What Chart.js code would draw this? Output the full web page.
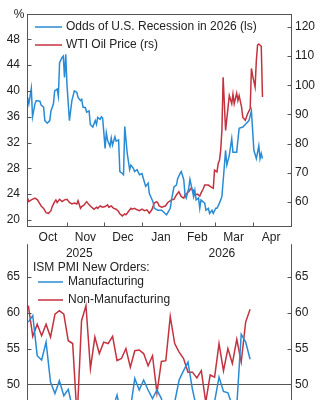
<!DOCTYPE html>
<html><head><meta charset="utf-8"><title>Recession odds, WTI and ISM new orders</title>
<script src="https://cdn.jsdelivr.net/npm/chart.js@4.4.1/dist/chart.umd.min.js"></script>
<style>
html,body{margin:0;padding:0;background:#fff;overflow:hidden;width:324px;height:400px;position:relative}
#w1{position:absolute;left:0;top:0;width:324px;height:265px}
#w2{position:absolute;left:0;top:230px;width:324px;height:190px}
</style></head><body>
<div id="w1"><canvas id="c1"></canvas></div>
<div id="w2"><canvas id="c2"></canvas></div>
<script>
// ---------- data: top panel ----------
const oddsDates = ['2025-09-30','2025-10-01','2025-10-03','2025-10-04','2025-10-06','2025-10-07','2025-10-10','2025-10-11','2025-10-13','2025-10-14','2025-10-16','2025-10-18','2025-10-19','2025-10-21','2025-10-22','2025-10-24','2025-10-25','2025-10-26','2025-10-28','2025-10-29','2025-10-30','2025-10-31','2025-11-01','2025-11-03','2025-11-05','2025-11-07','2025-11-09','2025-11-10','2025-11-12','2025-11-13','2025-11-14','2025-11-16','2025-11-17','2025-11-19','2025-11-20','2025-11-22','2025-11-24','2025-11-25','2025-11-26','2025-11-28','2025-11-29','2025-11-30','2025-12-01','2025-12-02','2025-12-03','2025-12-04','2025-12-06','2025-12-07','2025-12-08','2025-12-10','2025-12-11','2025-12-13','2025-12-14','2025-12-16','2025-12-17','2025-12-18','2025-12-20','2025-12-22','2025-12-23','2025-12-25','2025-12-26','2025-12-28','2025-12-30','2026-01-01','2026-01-02','2026-01-04','2026-01-06','2026-01-07','2026-01-10','2026-01-11','2026-01-14','2026-01-17','2026-01-21','2026-01-24','2026-01-25','2026-01-27','2026-01-29','2026-01-30','2026-02-01','2026-02-02','2026-02-04','2026-02-05','2026-02-06','2026-02-08','2026-02-09','2026-02-10','2026-02-12','2026-02-13','2026-02-14','2026-02-16','2026-02-17','2026-02-18','2026-02-21','2026-02-22','2026-02-24','2026-02-25','2026-02-27','2026-02-28','2026-03-02','2026-03-03','2026-03-05','2026-03-07','2026-03-10','2026-03-11','2026-03-13','2026-03-15','2026-03-16','2026-03-19','2026-03-21','2026-03-24','2026-03-27','2026-03-29','2026-03-31','2026-04-02','2026-04-04','2026-04-06','2026-04-07','2026-04-08','2026-04-09'];
const oddsValues = [39.0,38.0,40.4,36.0,38.0,38.5,38.4,37.8,37.5,35.4,35.0,35.4,36.9,38.0,40.0,40.3,39.2,44.4,45.2,45.4,42.1,45.7,41.0,35.4,38.5,40.0,39.8,39.0,38.5,38.7,37.5,37.4,36.7,36.9,34.8,34.4,35.4,34.8,35.9,35.6,36.0,35.8,33.5,31.1,33.5,32.4,31.4,32.7,31.6,32.9,32.2,32.4,27.5,27.2,27.0,34.5,30.3,27.8,28.5,28.0,27.5,27.8,27.0,27.2,26.5,25.2,25.7,24.1,22.8,21.8,21.5,21.5,20.8,21.8,23.1,25.1,25.4,26.4,27.2,27.5,26.2,23.9,23.4,24.9,26.3,25.4,23.6,24.6,23.1,23.4,21.8,23.1,22.6,21.5,21.8,21.0,21.5,21.0,21.8,21.8,22.6,23.6,30.8,28.5,30.0,32.6,30.5,30.5,34.2,34.4,35.0,35.4,36.9,30.8,29.5,31.5,29.5,30.3,29.5];

const wtiDates = ['2025-09-30','2025-10-01','2025-10-03','2025-10-06','2025-10-08','2025-10-10','2025-10-11','2025-10-13','2025-10-15','2025-10-17','2025-10-19','2025-10-20','2025-10-22','2025-10-23','2025-10-24','2025-10-26','2025-10-28','2025-10-30','2025-11-01','2025-11-03','2025-11-05','2025-11-07','2025-11-09','2025-11-10','2025-11-12','2025-11-13','2025-11-15','2025-11-16','2025-11-17','2025-11-19','2025-11-21','2025-11-23','2025-11-25','2025-11-26','2025-11-28','2025-11-30','2025-12-02','2025-12-04','2025-12-05','2025-12-07','2025-12-09','2025-12-11','2025-12-13','2025-12-14','2025-12-16','2025-12-18','2025-12-19','2025-12-21','2025-12-23','2025-12-24','2025-12-26','2025-12-28','2025-12-30','2026-01-01','2026-01-03','2026-01-05','2026-01-07','2026-01-09','2026-01-11','2026-01-13','2026-01-14','2026-01-15','2026-01-17','2026-01-20','2026-01-22','2026-01-25','2026-01-27','2026-01-29','2026-01-31','2026-02-02','2026-02-04','2026-02-05','2026-02-08','2026-02-10','2026-02-12','2026-02-13','2026-02-15','2026-02-17','2026-02-18','2026-02-20','2026-02-21','2026-02-24','2026-02-26','2026-02-28','2026-03-01','2026-03-03','2026-03-04','2026-03-05','2026-03-06','2026-03-07','2026-03-08','2026-03-10','2026-03-12','2026-03-13','2026-03-15','2026-03-16','2026-03-17','2026-03-19','2026-03-20','2026-03-21','2026-03-23','2026-03-24','2026-03-26','2026-03-28','2026-03-30','2026-03-31','2026-04-01','2026-04-03','2026-04-04','2026-04-05','2026-04-06','2026-04-08','2026-04-09'];
const wtiValues = [61.3,60.1,60.7,61.3,60.7,59.3,58.6,57.8,56.3,56.1,57.0,58.4,60.1,60.7,59.8,60.9,60.1,60.7,60.9,59.8,59.3,59.6,59.3,60.4,57.8,58.4,59.0,59.6,60.1,59.0,58.2,57.5,58.2,57.8,58.6,58.2,58.4,59.0,58.2,58.6,57.8,57.5,56.7,55.9,55.2,55.9,55.6,56.7,57.8,57.5,57.8,57.3,57.0,57.5,57.0,57.3,56.1,57.3,59.6,60.1,59.6,58.6,58.2,58.6,59.8,60.7,60.9,62.4,63.5,61.8,61.3,62.4,63.5,64.7,63.9,62.4,62.7,62.0,63.0,64.7,65.8,65.8,65.2,64.7,70.9,70.3,73.2,74.3,77.7,84.6,102.8,84.5,92.5,96.5,93.7,97.0,93.7,97.3,94.8,96.5,92.5,89.0,88.0,90.3,92.0,105.8,103.3,99.4,108.5,113.8,114.2,113.4,96.0];

const monthStarts = ['2025-10-01','2025-11-01','2025-12-01','2026-01-01','2026-02-01','2026-03-01','2026-04-01','2026-05-01'];
const monthLabels = ['Oct','Nov','Dec','Jan','Feb','Mar','Apr'];
const yearLabels = ['2025','2026'];
const yearLabelDates = ['2025-11-11','2026-03-07'];
const leftTicksTop = [20,24,28,32,36,40,44,48];
const rightTicksTop = [60,70,80,90,100,110,120];

// ---------- data: bottom panel ----------
const ismMonths = ['2022-01','2022-02','2022-03','2022-04','2022-05','2022-06','2022-07','2022-08','2022-09','2022-10','2022-11','2022-12',
 '2023-01','2023-02','2023-03','2023-04','2023-05','2023-06','2023-07','2023-08','2023-09','2023-10','2023-11','2023-12',
 '2024-01','2024-02','2024-03','2024-04','2024-05','2024-06','2024-07','2024-08','2024-09','2024-10','2024-11','2024-12',
 '2025-01','2025-02','2025-03','2025-04','2025-05','2025-06','2025-07','2025-08','2025-09','2025-10','2025-11','2025-12',
 '2026-01','2026-02','2026-03'];
const manufValues = [58.7,59.6,54.0,53.4,55.9,50.3,48.7,50.5,48.4,49.3,46.5,45.0,43.0,46.5,44.5,45.5,43.0,45.5,47.0,46.5,48.5,45.5,47.0,46.5,50.8,49.2,50.6,49.2,48.0,49.2,48.0,45.5,44.8,47.5,50.6,51.9,53.1,49.3,46.5,45.2,47.0,46.5,47.6,51.0,49.0,48.8,47.0,47.0,57.0,55.9,53.5];
const nonManufValues = [61.0,56.7,58.4,56.8,58.4,56.6,59.8,60.3,59.8,56.1,55.7,45.2,58.9,61.0,52.2,56.6,54.3,55.9,55.7,56.7,53.3,53.6,55.0,52.4,54.7,54.8,54.3,52.6,54.0,48.8,53.2,53.3,59.5,55.7,54.5,53.6,51.7,51.7,50.9,51.9,47.5,51.3,51.0,55.7,51.9,55.0,52.9,56.3,53.1,58.7,60.5];
const ismTicks = [50,55,60,65];
const ismTitle = 'ISM PMI New Orders:';

// ---------- styling ----------
const FONT = "'Liberation Sans', Arial, Helvetica, sans-serif";
const BLUE = '#2a8bd5', RED = '#c3323f', AXIS = '#555555', TXT = '#222222';
Chart.defaults.font.family = FONT;
Chart.defaults.font.size = 12;
Chart.defaults.color = TXT;

const day0 = Date.UTC(2025, 9, 1);
const toDay = s => { const p = s.split('-').map(Number); return (Date.UTC(p[0], p[1] - 1, p[2] || 1) - day0) / 86400000; };
const pts = (dates, vals) => dates.map((d, i) => ({ x: toDay(d), y: vals[i] }));
const monthPos = monthStarts.map(toDay);
const labelPos = monthLabels.map((_, i) => (monthPos[i] + monthPos[i + 1]) / 2);

const decor = {
  id: 'decor',
  afterDraw(chart, args, o) {
    const ctx = chart.ctx, a = chart.chartArea;
    const L = Math.round(a.left) + 0.5, R = Math.round(a.right) - 0.5;
    const T = Math.round(a.top) + 0.5, B = Math.round(a.bottom) - 0.5;
    ctx.save();
    ctx.strokeStyle = AXIS; ctx.lineWidth = 1;
    ctx.beginPath();
    ctx.moveTo(L, a.top); ctx.lineTo(L, a.bottom);
    ctx.moveTo(R, a.top); ctx.lineTo(R, a.bottom);
    if (o.top) { ctx.moveTo(a.left, T); ctx.lineTo(a.right, T); }
    if (o.bottom) { ctx.moveTo(a.left, B); ctx.lineTo(a.right, B); }
    ['yL', 'yR'].forEach(id => {
      const s = chart.scales[id];
      s.ticks.forEach(t => {
        const y = Math.round(s.getPixelForValue(t.value)) + 0.5;
        if (id === 'yL') { ctx.moveTo(L, y); ctx.lineTo(L + 4, y); }
        else { ctx.moveTo(R, y); ctx.lineTo(R - 4, y); }
      });
    });
    if (o.xMarks) {
      const s = chart.scales.x;
      o.xMarks.forEach(v => {
        const x = Math.round(s.getPixelForValue(v)) + 0.5;
        if (x > a.left + 3 && x < a.right - 3) { ctx.moveTo(x, B); ctx.lineTo(x, B - 4); }
      });
    }
    ctx.stroke();
    ctx.fillStyle = TXT;
    ctx.font = '12px ' + FONT;
    ctx.textBaseline = 'middle';
    (o.texts || []).forEach(t => { ctx.textAlign = t.align || 'left'; ctx.fillText(t.text, t.x, t.y); });
    if (o.legend) {
      chart.data.datasets.forEach((ds, i) => {
        const y = o.legend.ys[i];
        ctx.strokeStyle = ds.borderColor; ctx.lineWidth = 1.5;
        ctx.beginPath(); ctx.moveTo(o.legend.x0, y); ctx.lineTo(o.legend.x1, y); ctx.stroke();
        ctx.textAlign = 'left'; ctx.fillStyle = TXT;
        ctx.fillText(ds.label, o.legend.tx, y);
      });
    }
    if (o.years) {
      const s = chart.scales.x;
      ctx.textAlign = 'center';
      o.years.labels.forEach((t, i) => ctx.fillText(t, s.getPixelForValue(o.years.values[i]), o.years.y));
    }
    ctx.restore();
  }
};

const tickFont = { family: FONT, size: 12 };

new Chart(document.getElementById('c1'), {
  type: 'line',
  data: { datasets: [
    { label: 'Odds of U.S. Recession in 2026 (ls)', data: pts(oddsDates, oddsValues), borderColor: BLUE, yAxisID: 'yL' },
    { label: 'WTI Oil Price (rs)', data: pts(wtiDates, wtiValues), borderColor: RED, yAxisID: 'yR' }
  ]},
  options: {
    responsive: true, maintainAspectRatio: false, animation: false, devicePixelRatio: 1,
    layout: { padding: { top: 13, left: 0, right: 0, bottom: 0 } },
    elements: { point: { radius: 0 }, line: { borderWidth: 1.5, tension: 0 } },
    plugins: {
      legend: { display: false }, tooltip: { enabled: false },
      decor: {
        top: true, bottom: true, xMarks: monthPos,
        texts: [{ text: '%', x: 19, y: 15, align: 'center' }],
        legend: { x0: 35, x1: 62, tx: 66, ys: [27, 45] },
        years: { labels: yearLabels, values: yearLabelDates.map(toDay), y: 254 }
      }
    },
    scales: {
      x: {
        type: 'linear', min: -1.5, max: 214,
        grid: { display: false, drawTicks: false }, border: { display: false },
        afterBuildTicks: s => { s.ticks = labelPos.map(v => ({ value: v })); },
        afterFit: s => { s.height = 38; },
        ticks: { autoSkip: false, maxRotation: 0, padding: 3, color: TXT, font: tickFont,
          callback: (v, i) => monthLabels[i] }
      },
      yL: {
        position: 'left', min: 18.9, max: 51.9,
        grid: { display: false, drawTicks: false }, border: { display: false },
        afterBuildTicks: s => { s.ticks = leftTicksTop.map(v => ({ value: v })); },
        afterFit: s => { s.width = 27; },
        ticks: { padding: 7, color: TXT, font: tickFont }
      },
      yR: {
        position: 'right', min: 51.4, max: 124.4,
        grid: { display: false, drawTicks: false }, border: { display: false },
        afterBuildTicks: s => { s.ticks = rightTicksTop.map(v => ({ value: v })); },
        afterFit: s => { s.width = 32; },
        ticks: { padding: 3, color: TXT, font: tickFont }
      }
    }
  },
  plugins: [decor]
});

new Chart(document.getElementById('c2'), {
  type: 'line',
  data: { datasets: [
    { label: 'Manufacturing', data: ismMonths.map((m, i) => ({ x: i, y: manufValues[i] })), borderColor: BLUE, yAxisID: 'yL' },
    { label: 'Non-Manufacturing', data: ismMonths.map((m, i) => ({ x: i, y: nonManufValues[i] })), borderColor: RED, yAxisID: 'yL' }
  ]},
  options: {
    responsive: true, maintainAspectRatio: false, animation: false, devicePixelRatio: 1,
    layout: { padding: { top: 13, left: 0, right: 0, bottom: 20 } },
    elements: { point: { radius: 0 }, line: { borderWidth: 1.5, tension: 0 } },
    plugins: {
      legend: { display: false }, tooltip: { enabled: false },
      decor: {
        top: false, bottom: false,
        texts: [{ text: ismTitle, x: 33, y: 38 }],
        legend: { x0: 38, x1: 63, tx: 68, ys: [52, 70] }
      }
    },
    scales: {
      x: { type: 'linear', display: false, min: -0.3, max: 59.45 },
      yL: {
        position: 'left', min: 47.8, max: 69.6,
        grid: { display: true, drawTicks: false, lineWidth: 1,
          color: c => (c.tick && c.tick.value === 50) ? AXIS : 'rgba(0,0,0,0)' },
        border: { display: false },
        afterBuildTicks: s => { s.ticks = ismTicks.map(v => ({ value: v })); },
        afterFit: s => { s.width = 27; },
        ticks: { padding: 7, color: TXT, font: tickFont }
      },
      yR: {
        position: 'right', min: 47.8, max: 69.6,
        grid: { display: false, drawTicks: false }, border: { display: false },
        afterBuildTicks: s => { s.ticks = ismTicks.map(v => ({ value: v })); },
        afterFit: s => { s.width = 32; },
        ticks: { padding: 3, color: TXT, font: tickFont }
      }
    }
  },
  plugins: [decor]
});
</script></body></html>
